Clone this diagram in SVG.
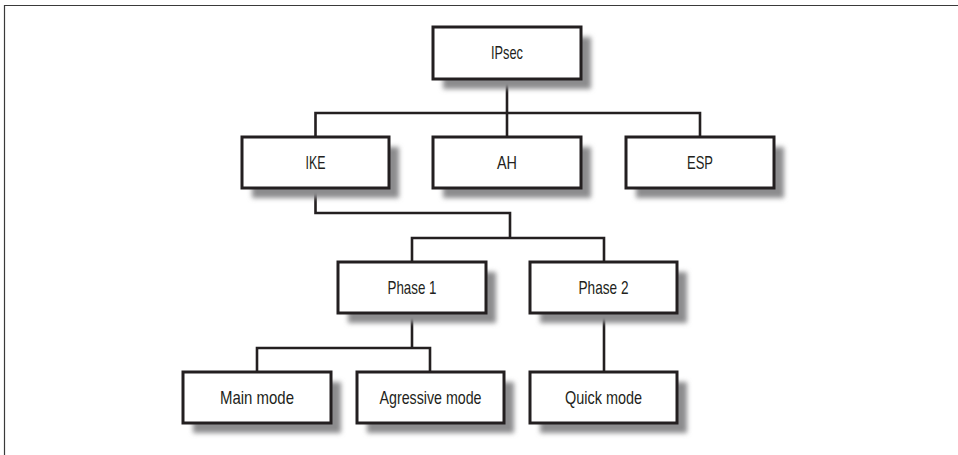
<svg xmlns="http://www.w3.org/2000/svg" width="958" height="455" viewBox="0 0 958 455">
  <defs>
    <filter id="sh" x="-20%" y="-40%" width="140%" height="180%">
      <feGaussianBlur stdDeviation="2.5"/>
    </filter>
    <style>
      .box{fill:#fff;stroke:#231f20;stroke-width:3}
      .shadow{fill:#8c8c8e;filter:url(#sh)}
      .lbl{font-family:"Liberation Sans Narrow","Liberation Sans",Arial,sans-serif;font-size:19px;fill:#231f20;text-anchor:middle}
      .conn{fill:none;stroke:#231f20;stroke-width:2.6;stroke-linejoin:miter}
      .frame{fill:none;stroke:#3a3a3a;stroke-width:1.2}
    </style>
  </defs>
  <rect width="958" height="455" fill="#fff"/>
  <path class="frame" d="M4.5,455 V5.5 H958"/>

  <g id="connectors">
    <path class="conn" d="M507,79 V137"/>
    <path class="conn" d="M315.5,137 V113 H700 V137"/>
    <path class="conn" d="M315.5,188 V213 H510 V238"/>
    <path class="conn" d="M412,262 V238 H604 V262"/>
    <path class="conn" d="M412,313 V348"/>
    <path class="conn" d="M257,372 V348 H430 V372"/>
    <path class="conn" d="M604,313 V372"/>
  </g>

  <g id="ipsec">
    <rect class="shadow" x="443" y="37" width="148" height="52"/>
    <rect class="box" x="433" y="27" width="148" height="52"/>
    <text class="lbl" x="507" y="59" textLength="32" lengthAdjust="spacingAndGlyphs">IPsec</text>
  </g>
  <g id="ike">
    <rect class="shadow" x="252" y="147" width="147" height="51"/>
    <rect class="box" x="242" y="137" width="147" height="51"/>
    <text class="lbl" x="315.5" y="169" textLength="20" lengthAdjust="spacingAndGlyphs">IKE</text>
  </g>
  <g id="ah">
    <rect class="shadow" x="443" y="147" width="148" height="51"/>
    <rect class="box" x="433" y="137" width="148" height="51"/>
    <text class="lbl" x="507" y="169" textLength="20" lengthAdjust="spacingAndGlyphs">AH</text>
  </g>
  <g id="esp">
    <rect class="shadow" x="636" y="147" width="148" height="51"/>
    <rect class="box" x="626" y="137" width="148" height="51"/>
    <text class="lbl" x="700" y="169" textLength="26" lengthAdjust="spacingAndGlyphs">ESP</text>
  </g>
  <g id="phase1">
    <rect class="shadow" x="348" y="272" width="148" height="51"/>
    <rect class="box" x="338" y="262" width="148" height="51"/>
    <text class="lbl" x="412" y="294" textLength="49" lengthAdjust="spacingAndGlyphs">Phase 1</text>
  </g>
  <g id="phase2">
    <rect class="shadow" x="540" y="272" width="147" height="51"/>
    <rect class="box" x="530" y="262" width="147" height="51"/>
    <text class="lbl" x="603.5" y="294" textLength="50" lengthAdjust="spacingAndGlyphs">Phase 2</text>
  </g>
  <g id="main-mode">
    <rect class="shadow" x="193" y="382" width="148" height="51"/>
    <rect class="box" x="183" y="372" width="148" height="51"/>
    <text class="lbl" x="257" y="404" textLength="74" lengthAdjust="spacingAndGlyphs">Main mode</text>
  </g>
  <g id="agressive-mode">
    <rect class="shadow" x="367" y="382" width="147" height="51"/>
    <rect class="box" x="357" y="372" width="147" height="51"/>
    <text class="lbl" x="430.5" y="404" textLength="102" lengthAdjust="spacingAndGlyphs">Agressive mode</text>
  </g>
  <g id="quick-mode">
    <rect class="shadow" x="540" y="382" width="147" height="51"/>
    <rect class="box" x="530" y="372" width="147" height="51"/>
    <text class="lbl" x="603.5" y="404" textLength="77" lengthAdjust="spacingAndGlyphs">Quick mode</text>
  </g>
</svg>
